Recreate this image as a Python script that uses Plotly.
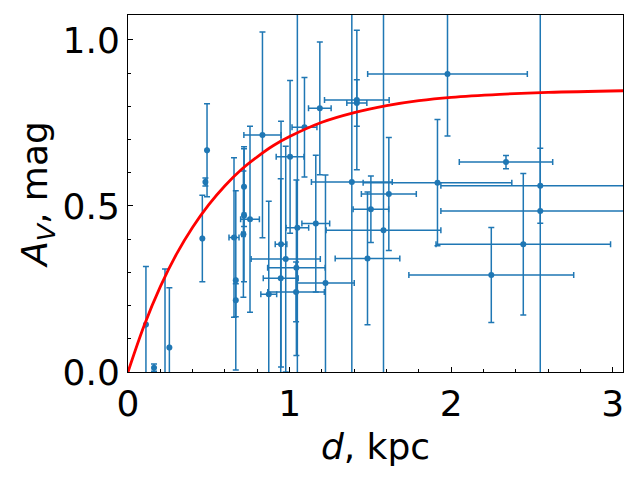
import plotly.graph_objects as go

# distance, extinction and their errors
dist = [0.111, 0.161, 0.229, 0.256, 0.460, 0.479, 0.489, 0.656, 0.667, 0.667,
        0.718, 0.718, 0.714, 0.755, 0.832, 0.871, 0.947, 0.945, 0.976, 1.003,
        1.048, 1.042, 1.040, 1.092, 1.162, 1.187, 1.222, 1.385, 1.416, 1.416,
        1.503, 1.482, 1.614, 1.581, 1.977, 1.915, 2.339, 2.551, 2.551, 2.446,
        2.248]
av = [0.143, 0.013, -0.03, 0.074, 0.402, 0.572, 0.668, 0.405, 0.276, 0.216,
      0.558, 0.472, 0.415, 0.460, 0.714, 0.234, 0.385, 0.282, 0.340, 0.648,
      0.434, 0.314, 0.241, 0.737, 0.447, 0.794, 0.268, 0.572, 0.819, 0.810,
      0.490, 0.342, 0.536, 0.427, 0.897, 0.570, 0.632, 0.561, 0.485, 0.385,
      0.292]
dist_err = [0, 0, 0, 0, 0, 0.005, 0, 0.031, 0, 0,
            0, 0.01, 0.01, 0.058, 0.115, 0.049, 0.036, 0.108, 0.214, 0.086,
            0.07, 0.178, 0.175, 0.077, 0.086, 0.07, 0.178, 0.25, 0.2, 0.062,
            0.11, 0.2, 0.17, 0.355, 0.494, 0.46, 0.289, 0.615, 0.615, 0.54,
            0.51]
av_err = [0.175, 0.011, 0.34, 0.18, 0.13, 0.012, 0.14, 0.24, 0.27, 0.05,
          0.12, 0.2, 0.19, 0.28, 0.31, 0.28, 0.37, 0.30, 0.34, 0.23,
          0.9, 0.264, 0.09, 0.15, 0.206, 0.2, 0.325, 0.8, 0.21, 0.07,
          0.10, 0.2, 0.17, 0.9, 0.186, 0.19, 0.02, 0.113, 0.9, 0.213,
          0.143]

# model curve
curve_d = [0, 0.1, 0.2, 0.3, 0.4, 0.5, 0.6, 0.7, 0.8, 0.9, 1.0, 1.2, 1.4,
           1.6, 1.8, 2.0, 2.3, 2.6, 3.07]
curve_av = [0, 0.140, 0.257, 0.355, 0.436, 0.504, 0.561, 0.609, 0.648, 0.682,
            0.709, 0.752, 0.781, 0.802, 0.817, 0.827, 0.836, 0.842, 0.847]

blue = "#1f77b4"

fig = go.Figure()
fig.add_trace(go.Scatter(
    x=dist, y=av, mode="markers",
    marker=dict(color=blue, size=6),
    error_x=dict(type="data", array=dist_err, visible=True,
                 color=blue, thickness=1.5, width=3),
    error_y=dict(type="data", array=av_err, visible=True,
                 color=blue, thickness=1.5, width=3),
    showlegend=False
))
fig.add_trace(go.Scatter(
    x=curve_d, y=curve_av, mode="lines", line_shape="spline",
    line=dict(color="red", width=2.8), showlegend=False
))

axis_style = dict(
    showline=True, linecolor="black", linewidth=1, mirror=True,
    showgrid=False, zeroline=False,
    ticks="inside", ticklen=5, tickcolor="black",
    tickfont=dict(size=36, color="black"),
)

# the page puts the plot ~8px in from the corner, margins allow for that
fig.update_layout(
    width=640, height=480,
    margin=dict(l=120, r=25, t=7, b=116),
    paper_bgcolor="white", plot_bgcolor="white",
    font=dict(family="DejaVu Sans", color="black"),
    xaxis=dict(
        range=[0, 3.063], tickvals=[0, 1, 2, 3], ticktext=["0", "1", "2", "3"],
        minor=dict(dtick=0.2, ticks="inside", ticklen=3, tickcolor="black"),
        title=dict(text="<i>d</i>, kpc", font=dict(size=36), standoff=10),
        **axis_style
    ),
    yaxis=dict(
        range=[0, 1.075], tickvals=[0, 0.5, 1.0], ticktext=["0.0", "0.5", "1.0"],
        minor=dict(dtick=0.1, ticks="inside", ticklen=3, tickcolor="black"),
        title=dict(text="<i>A</i><sub><i>V</i></sub>, mag", font=dict(size=36), standoff=3),
        **axis_style
    ),
)

fig.write_html("out.html")
